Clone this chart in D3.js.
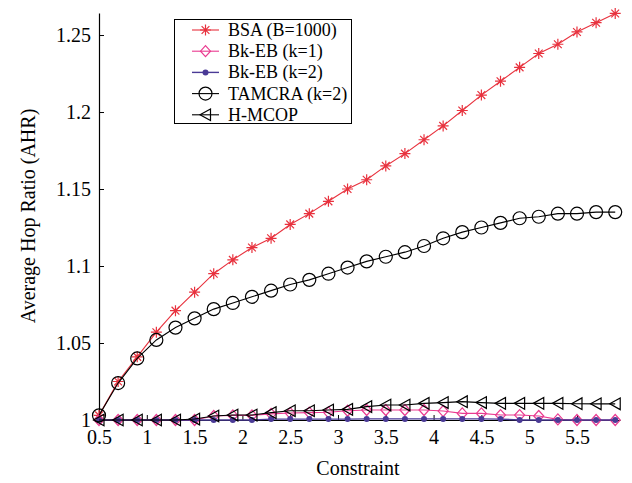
<!DOCTYPE html>
<html>
<head>
<meta charset="utf-8">
<script src="https://cdn.jsdelivr.net/npm/d3@7"></script>
<style>
  body { margin: 0; background: #fff; }
  svg { display: block; font-family: "Liberation Serif", "Times New Roman", serif; }
</style>
</head>
<body>
<svg id="chart" width="632" height="483"></svg>
<script>
// x values (Constraint)
var constraint = [0.5, 0.7, 0.9, 1.1, 1.3, 1.5, 1.7, 1.9, 2.1, 2.3, 2.5, 2.7, 2.9, 3.1,
                  3.3, 3.5, 3.7, 3.9, 4.1, 4.3, 4.5, 4.7, 4.9, 5.1, 5.3, 5.5, 5.7, 5.9];

var bsa = [1.003, 1.025, 1.041, 1.057, 1.071, 1.083, 1.095, 1.104, 1.112, 1.118, 1.127, 1.134, 1.142, 1.150,
           1.156, 1.165, 1.173, 1.182, 1.191, 1.201, 1.211, 1.220, 1.229, 1.238, 1.244, 1.252, 1.258, 1.264];
var bkeb1 = [1.000, 1.000, 1.000, 1.000, 1.000, 1.000, 1.0026, 1.003, 1.003, 1.004, 1.0045, 1.0048, 1.005, 1.006,
             1.0065, 1.0065, 1.0065, 1.0065, 1.0058, 1.0043, 1.0043, 1.0032, 1.0032, 1.0026, 1.0004, 1.000, 1.000, 1.000];
var bkeb2 = [1.000, 1.000, 1.000, 1.000, 1.000, 1.000, 1.000, 1.000, 1.000, 1.0006, 1.0006, 1.0006, 1.0006, 1.0006,
             1.0007, 1.0007, 1.0007, 1.0007, 1.0007, 1.0007, 1.0007, 1.0006, 1.000, 1.000, 1.000, 1.000, 1.000, 1.000];
var tamcra = [1.003, 1.024, 1.040, 1.052, 1.060, 1.066, 1.072, 1.076, 1.080, 1.084, 1.088, 1.091, 1.095, 1.099,
              1.103, 1.106, 1.109, 1.113, 1.118, 1.122, 1.125, 1.128, 1.131, 1.132, 1.134, 1.134, 1.135, 1.135];
var hmcop = [1.000, 1.000, 1.000, 1.000, 1.000, 1.0006, 1.0026, 1.0032, 1.0032, 1.0048, 1.006, 1.006, 1.0065, 1.0069,
             1.0087, 1.0097, 1.0097, 1.0108, 1.0113, 1.0119, 1.0113, 1.0108, 1.0108, 1.0108, 1.0108, 1.0106, 1.0105, 1.0105];

var xTicks = [0.5, 1, 1.5, 2, 2.5, 3, 3.5, 4, 4.5, 5, 5.5];
var yTicks = [1, 1.05, 1.1, 1.15, 1.2, 1.25];

var seriesNames = ['BSA (B=1000)', 'Bk-EB (k=1)', 'Bk-EB (k=2)', 'TAMCRA (k=2)', 'H-MCOP'];
var seriesValues = [bsa, bkeb1, bkeb2, tamcra, hmcop];
var seriesColors = ['#e8323e', '#ea3a90', '#4a3a96', '#000000', '#000000'];
var seriesMarkers = ['asterisk', 'diamond', 'dot', 'circle', 'triangle'];

var svg = d3.select('#chart');
var x = d3.scaleLinear().domain([0.5, 5.95]).range([99, 620]);
var y = d3.scaleLinear().domain([1, 1.2643]).range([420, 13]);

// marker shapes
function markerPath(kind) {
  if (kind == 'asterisk') {
    var r = 5.5, d = r * Math.SQRT1_2;
    return 'M' + (-r) + ',0L' + r + ',0M0,' + (-r) + 'L0,' + r +
        'M' + (-d) + ',' + (-d) + 'L' + d + ',' + d +
        'M' + (-d) + ',' + d + 'L' + d + ',' + (-d);
  }
  if (kind == 'diamond') return 'M0,-5.5L5,0L0,5.5L-5,0Z';
  if (kind == 'triangle') return 'M-5.5,0L5,-5.8L5,5.8Z';
  return null;
}

function drawMarker(g, kind, color) {
  if (kind == 'circle') {
    g.append('circle').attr('r', 6.5).attr('fill', 'none')
        .attr('stroke', color).attr('stroke-width', 1.2);
  } else if (kind == 'dot') {
    g.append('circle').attr('r', 3).attr('fill', color).attr('stroke', 'none');
  } else {
    g.append('path').attr('d', markerPath(kind)).attr('fill', 'none')
        .attr('stroke', color).attr('stroke-width', 1.2);
  }
}

// axes
var xAxis = svg.append('g').attr('transform', 'translate(0,420)')
    .call(d3.axisBottom(x).tickValues(xTicks).tickFormat(d3.format('')).tickSizeInner(-5)
          .tickSizeOuter(0).tickPadding(9.8));
var yAxis = svg.append('g').attr('transform', 'translate(99,0)')
    .call(d3.axisLeft(y).tickValues(yTicks).tickFormat(d3.format('')).tickSizeInner(-5)
          .tickSizeOuter(0).tickPadding(8));
[xAxis, yAxis].forEach(function(a) {
  a.select('.domain').attr('stroke', '#000').attr('stroke-width', 1.2);
  a.selectAll('.tick line').attr('stroke', '#000');
  a.selectAll('.tick text').attr('font-size', 20).attr('fill', '#000')
      .attr('font-family', '"Liberation Serif", serif');
});

// series
var line = d3.line()
    .x(function(d) { return x(d[0]); })
    .y(function(d) { return y(d[1]); });

for (var s = 0; s < seriesValues.length; s++) {
  var pts = constraint.map(function(c, i) { return [c, seriesValues[s][i]]; });
  svg.append('path').datum(pts).attr('d', line).attr('fill', 'none')
      .attr('stroke', seriesColors[s]).attr('stroke-width', s == 2 ? 1.4 : 1.1);
  var mg = svg.append('g');
  for (var i = 0; i < pts.length; i++) {
    var g = mg.append('g').attr('transform', 'translate(' + x(pts[i][0]) + ',' + y(pts[i][1]) + ')');
    drawMarker(g, seriesMarkers[s], seriesColors[s]);
  }
}

// axis titles
svg.append('text').attr('x', 358).attr('y', 475).attr('text-anchor', 'middle')
    .attr('font-size', 20).text('Constraint');
svg.append('text').attr('transform', 'translate(35,216) rotate(-90)').attr('text-anchor', 'middle')
    .attr('font-size', 20).text('Average Hop Ratio (AHR)');

// legend
var legend = svg.append('g');
legend.append('rect').attr('x', 174.5).attr('y', 19.5).attr('width', 177).attr('height', 104)
    .attr('fill', '#fff').attr('stroke', '#000').attr('stroke-width', 1);
for (var k = 0; k < seriesNames.length; k++) {
  var ly = 30 + k * 21.2;
  legend.append('line').attr('x1', 192).attr('x2', 219).attr('y1', ly).attr('y2', ly)
      .attr('stroke', seriesColors[k]).attr('stroke-width', k == 2 ? 1.4 : 1.1);
  drawMarker(legend.append('g').attr('transform', 'translate(205.5,' + ly + ')'),
             seriesMarkers[k], seriesColors[k]);
  legend.append('text').attr('x', 228).attr('y', ly).attr('dy', '0.33em')
      .attr('font-size', 18).text(seriesNames[k]);
}
</script>
</body>
</html>
